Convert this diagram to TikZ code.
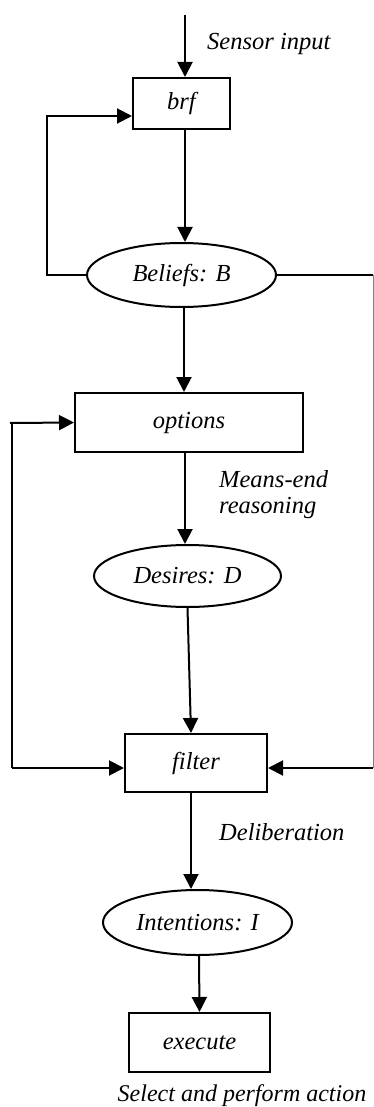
\documentclass[tikz,border=0pt]{standalone}
\usepackage{fontspec}
\setmainfont{Liberation Serif}
\usetikzlibrary{arrows.meta,shapes.geometric}
\begin{document}
\begin{tikzpicture}[x=1pt,y=-1pt,
  font=\fontsize{24.5}{26}\selectfont\itshape,
  box/.style={draw,line width=2pt,rectangle,inner sep=0pt},
  oval/.style={draw,line width=2pt,ellipse,inner sep=0pt},
  conn/.style={line width=2pt},
  arr/.style={conn,-{Triangle[length=15pt,width=15pt]}},
  lbl/.style={inner sep=0pt,anchor=west,align=left}]
\useasboundingbox (0,0) rectangle (374,1107);
% nodes
\node[box,minimum width=97pt,minimum height=51pt] (brf) at (181.5,103.5) {brf};
\node[oval,minimum width=189pt,minimum height=64pt] (bel) at (181.5,275) {Beliefs: B};
\node[box,minimum width=228pt,minimum height=59pt] (opt) at (189,422.5) {options};
\node[oval,minimum width=187pt,minimum height=62pt] (des) at (187.5,576) {Desires: D};
\node[box,minimum width=142pt,minimum height=58pt] (fil) at (196,763) {filter};
\node[oval,minimum width=189pt,minimum height=65pt] (int) at (197.5,922.5) {Intentions: I};
\node[box,minimum width=141pt,minimum height=59pt] (exe) at (199.5,1042.5) {execute};
% labels
\node[lbl] (sens) at (207,44) {Sensor input};
\node[lbl] (means) at (219,495) {Means-end\\reasoning};
\node[lbl] (delib) at (219,832) {Deliberation};
\node[inner sep=0pt,font=\fontsize{24}{26}\selectfont\itshape] (sel) at (242,1096) {Select and perform action};
% coordinates
\coordinate (in) at (185,15);
\coordinate (fbA) at (47,275);
\coordinate (fbB) at (47,116);
\coordinate (rA) at (373,275);
\coordinate (rB) at (373,768);
\coordinate (lA) at (10,423);
\coordinate (lB) at (12,423);
\coordinate (lC) at (12,768);
% connectors
\draw[arr] (in) -- (in |- brf.north);
\draw[arr] ([xshift=3.5pt]brf.south) -- ([xshift=3.5pt]bel.north);
\draw[arr] ([xshift=2.5pt]bel.south) -- ([xshift=-5pt]opt.north);
\draw[arr] ([xshift=-4pt]opt.south) -- ([xshift=-2.5pt]des.north);
\draw[arr] (des.south) -- ([xshift=-5pt]fil.north);
\draw[arr] ([xshift=-5pt]fil.south) -- ([xshift=-6.5pt]int.north);
\draw[arr] ([xshift=1.5pt]int.south) -- (exe.north);
\draw[arr] (bel.west) -- (fbA) -- (fbB) -- ([yshift=-12.5pt]brf.west);
\draw[conn] (bel.east) -- (rA);
\draw[line width=1pt,black!50] (rA) -- (rB);
\draw[arr] (rB) -- ([yshift=-5pt]fil.east);
\draw[arr] (lA) -- (opt.west);
\draw[conn] (lB) -- (lC);
\draw[arr] (lC) -- ([yshift=-5pt]fil.west);
\end{tikzpicture}
\end{document}
